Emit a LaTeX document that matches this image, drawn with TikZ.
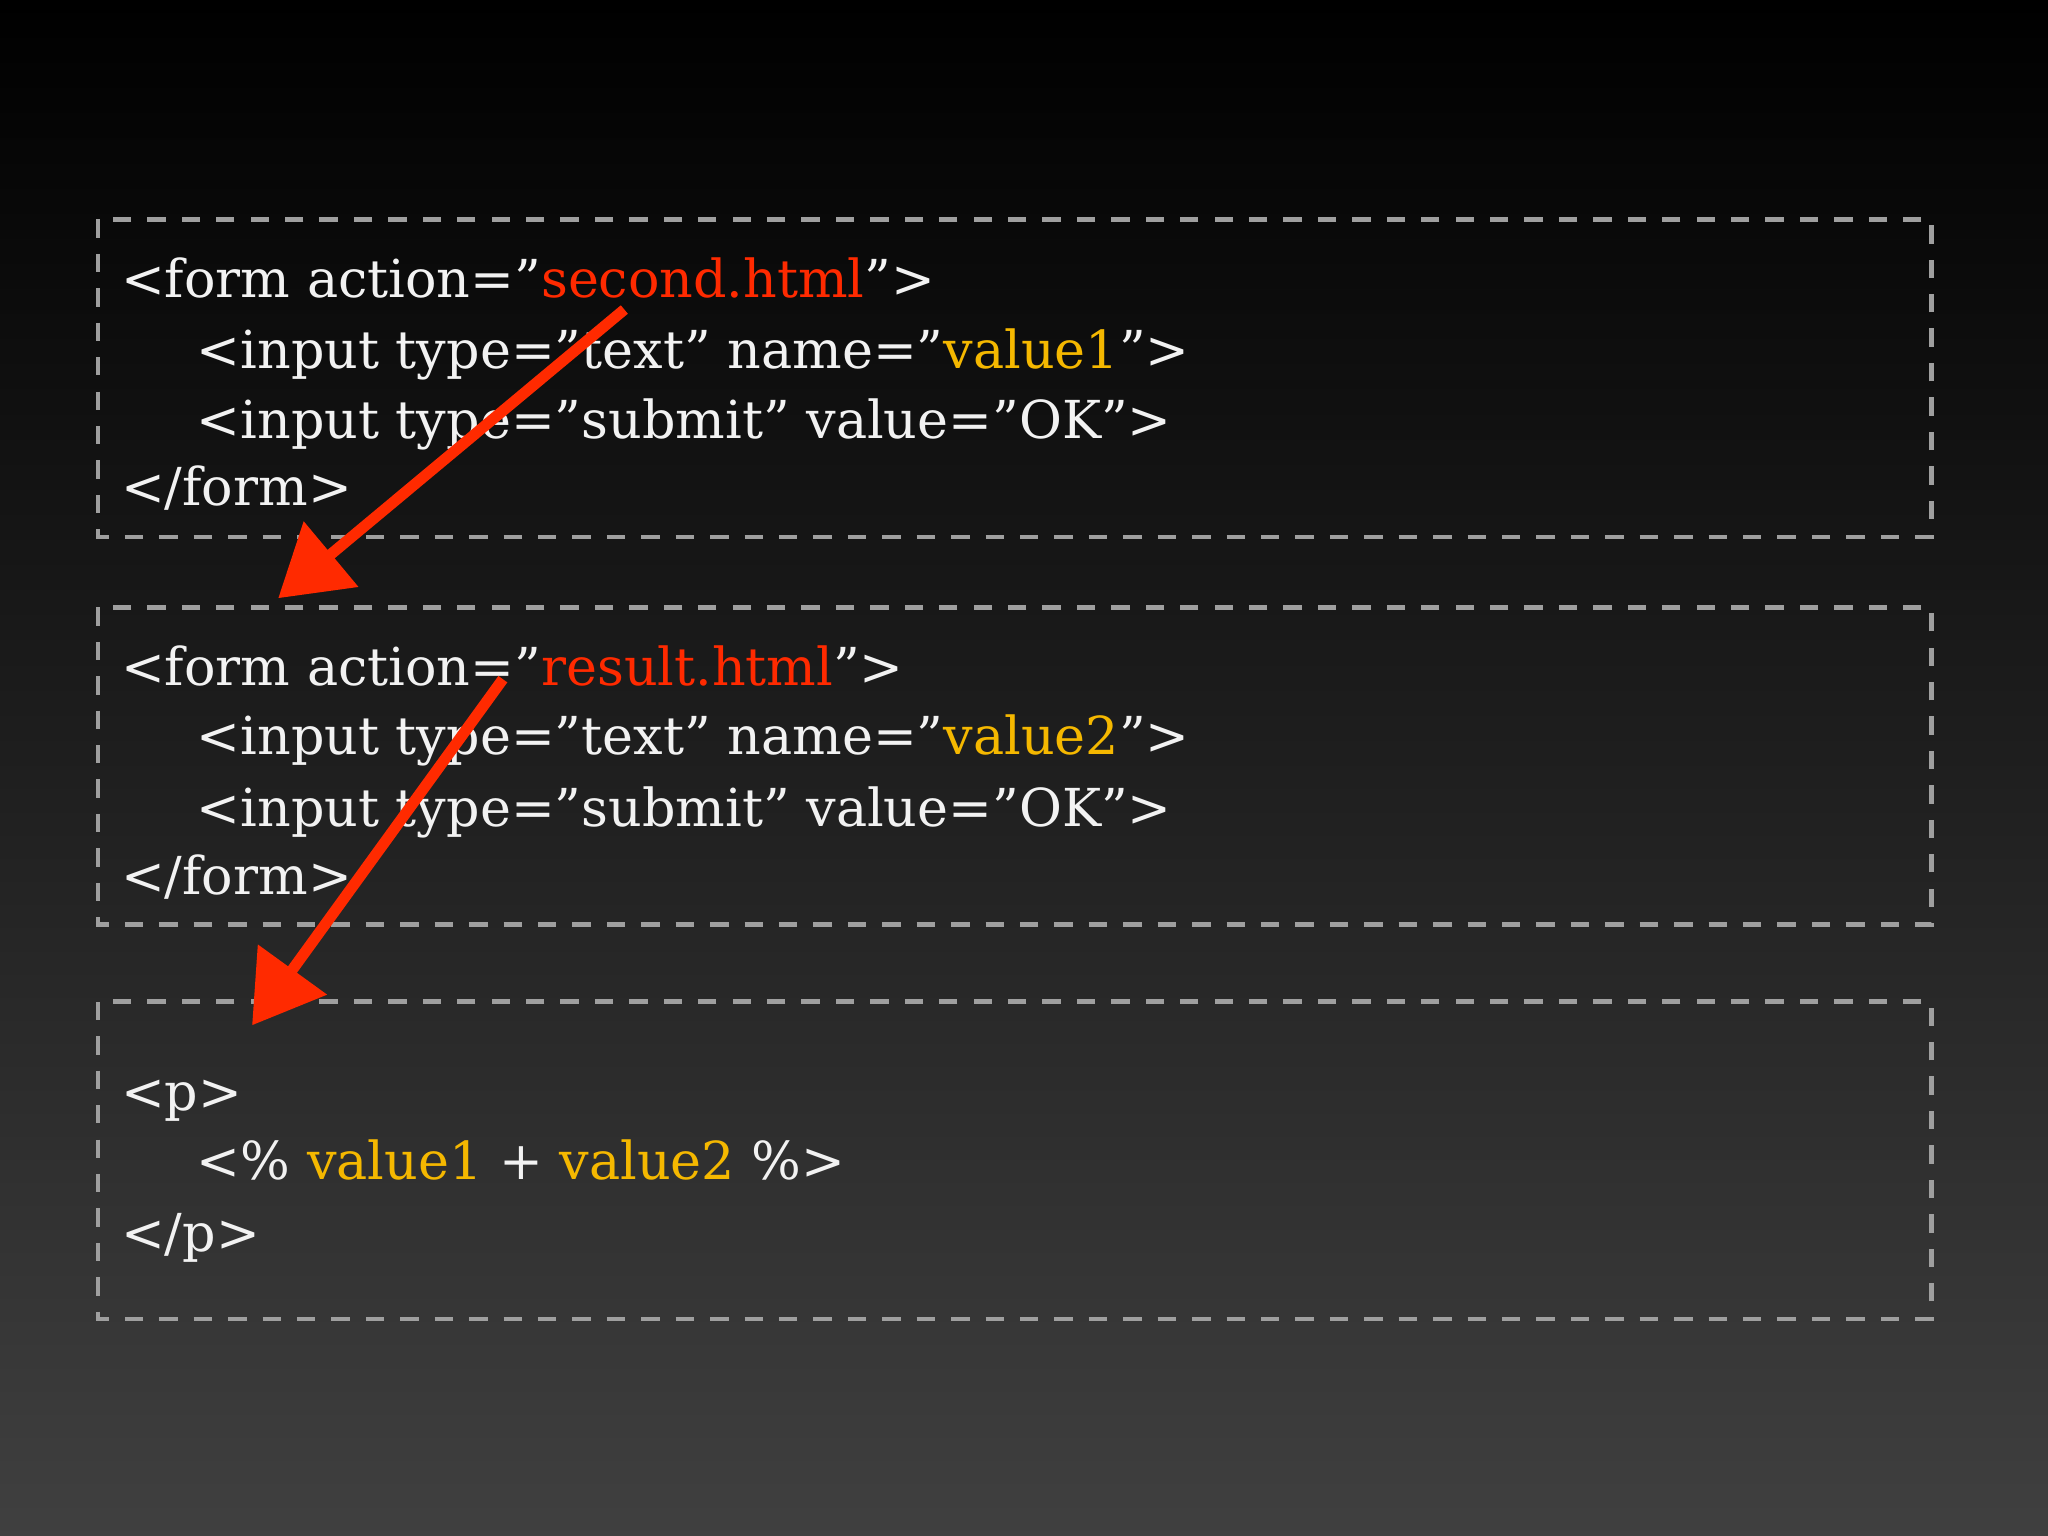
\documentclass[tikz,border=0pt]{standalone}
\usepackage{fontspec}
\setmainfont{DejaVu Serif}[Ligatures=NoCommon]
\usetikzlibrary{arrows.meta}
\definecolor{codered}{HTML}{FF2A00}
\definecolor{codeyel}{HTML}{F5B800}
\definecolor{codetxt}{HTML}{F2F2F2}
\newcommand{\R}[1]{\textcolor{codered}{#1}}
\newcommand{\Y}[1]{\textcolor{codeyel}{#1}}
\newcommand{\qq}{\symbol{34}}
\begin{document}
\begin{tikzpicture}[
  box/.style={draw=gray!75, line width=1pt, dash pattern=on 4pt off 3.5pt},
  code/.style={anchor=base west, inner sep=0pt, text=codetxt, font=\fontsize{11.4}{14}\selectfont},
  redarrow/.style={draw=codered, line width=2.4pt, -{Triangle[length=15pt,width=18pt]}}
]
\shade[top color=black, bottom color=black!75!white!100, middle color=black!88] (0,0) rectangle (15.68,-11.76);
\useasboundingbox (0,0) rectangle (15.68,-11.76);
\draw[box] (0.75,-1.68) rectangle (14.79,-4.11);
\draw[box] (0.75,-4.65) rectangle (14.79,-7.08);
\draw[box] (0.75,-7.67) rectangle (14.79,-10.10);

\node[code] (a1) at (0.92,-2.28) {<form action=\qq\R{second.html}\qq>};
\node[code] (a2) at (1.50,-2.82) {<input type=\qq text\qq{} name=\qq\Y{value1}\qq>};
\node[code] (a3) at (1.50,-3.36) {<input type=\qq submit\qq{} value=\qq OK\qq>};
\node[code] (a4) at (0.92,-3.87) {</form>};

\node[code] (b1) at (0.92,-5.25) {<form action=\qq\R{result.html}\qq>};
\node[code] (b2) at (1.50,-5.78) {<input type=\qq text\qq{} name=\qq\Y{value2}\qq>};
\node[code] (b3) at (1.50,-6.33) {<input type=\qq submit\qq{} value=\qq OK\qq>};
\node[code] (b4) at (0.92,-6.85) {</form>};

\node[code] (c1) at (0.92,-8.50) {<p>};
\node[code] (c2) at (1.50,-9.03) {<\% \Y{value1} + \Y{value2} \%>};
\node[code] (c3) at (0.92,-9.58) {</p>};

\coordinate (s1) at (4.78,-2.37);
\coordinate (e1) at (2.13,-4.58);
\coordinate (s2) at (3.85,-5.20);
\coordinate (e2) at (1.93,-7.85);
\draw[redarrow] (s1) -- (e1);
\draw[redarrow] (s2) -- (e2);
\end{tikzpicture}
\end{document}
